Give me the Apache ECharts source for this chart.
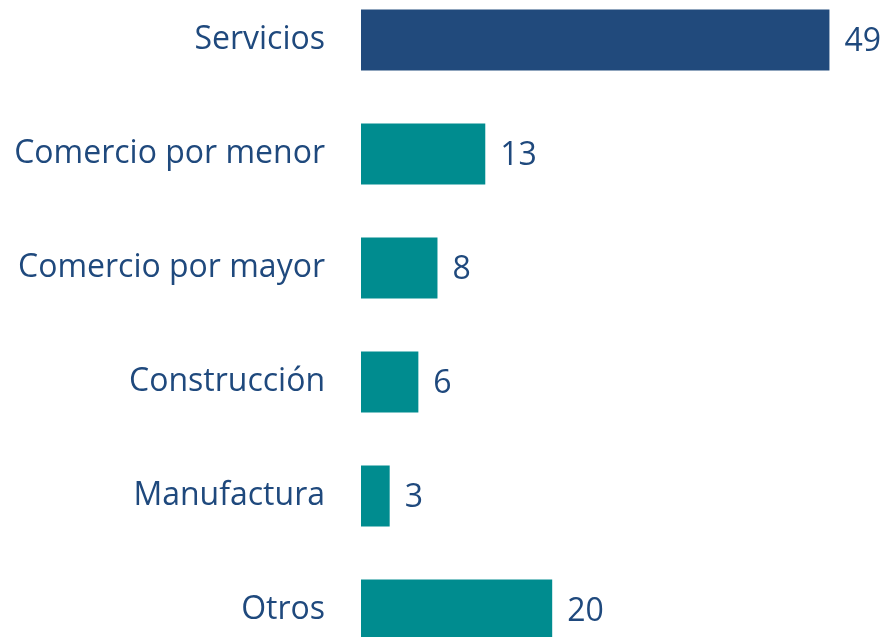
<!DOCTYPE html>
<html>
<head>
<meta charset="utf-8">
<script src="https://cdn.jsdelivr.net/npm/echarts@6/dist/echarts.min.js"></script>
<style>
  html, body { margin: 0; padding: 0; background: #fff; overflow: hidden; width: 886px; height: 637px; }
  /* the last bar is cut by the bottom edge in the reference, so the canvas is taller and shifted up */
  #chart { position: absolute; left: 0; top: -17px; width: 886px; height: 684px; }
</style>
</head>
<body>
<div id="chart"></div>
<script>
const categories = ['Servicios', 'Comercio por menor', 'Comercio por mayor', 'Construcción', 'Manufactura', 'Otros']
const values = [49, 13, 8, 6, 3, 20]
const highlightIndex = 0

const textColor = '#1F497D'
const darkBlue = '#214A7C'
const teal = '#008C8F'

const chart = echarts.init(document.getElementById('chart'))

chart.setOption({
  animation: false,
  grid: {
    left: 361,
    right: 47,
    top: 0,
    bottom: 0,
    containLabel: false,
  },
  xAxis: {
    type: 'value',
    min: 0,
    max: 50,
    show: false,
  },
  yAxis: {
    type: 'category',
    data: categories,
    inverse: true,
    axisLine: { show: false },
    axisTick: { show: false },
    splitLine: { show: false },
    axisLabel: {
      margin: 36,
      padding: [5, 0, 0, 0],
      color: textColor,
      fontFamily: 'Open Sans',
      fontSize: 32,
    },
  },
  series: [
    {
      type: 'bar',
      barWidth: 61,
      data: values.map((v, i) => ({
        value: v,
        itemStyle: { color: i === highlightIndex ? darkBlue : teal },
      })),
      label: {
        show: true,
        position: 'right',
        distance: 15,
        offset: [0, 2],
        color: textColor,
        fontFamily: 'Open Sans',
        fontSize: 32,
      },
    },
  ],
})
</script>
</body>
</html>
